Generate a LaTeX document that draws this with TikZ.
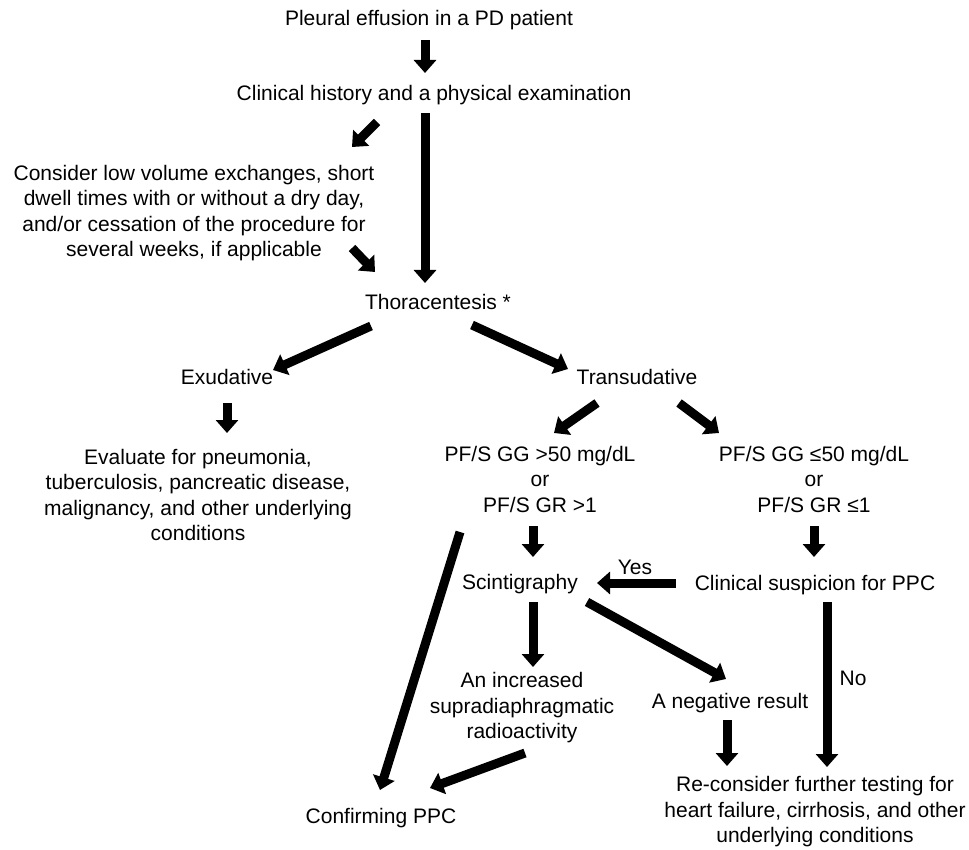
\documentclass[tikz,border=0pt]{standalone}
\usepackage{fontspec}
\setmainfont{Liberation Sans}
\usetikzlibrary{arrows.meta}

\begin{document}
\begin{tikzpicture}[x=1pt,y=-1pt,
  txt/.style={font=\fontsize{21}{25.5}\selectfont, align=center, inner sep=0pt},
  bigarrow/.style={line width=9pt, -{Triangle[width=22pt,length=13pt]}}]
\useasboundingbox (0,0) rectangle (969,850);

% Text Node
\node[txt] (pleural) at (429,20) {Pleural effusion in a PD patient};
% Text Node
\node[txt] (clinical) at (434,95) {Clinical history and a physical examination};
% Text Node
\node[txt] (consider) at (194,213) {Consider low volume exchanges, short\\dwell times with or without a dry day,\\and/or cessation of the procedure for\\several weeks, if applicable};
% Text Node
\node[txt] (thora) at (438,302) {Thoracentesis *};
% Text Node
\node[txt] (exud) at (227,377) {Exudative};
% Text Node
\node[txt] (trans) at (637,377) {Transudative};
% Text Node
\node[txt] (evaluate) at (198,495) {Evaluate for pneumonia,\\tuberculosis, pancreatic disease,\\malignancy, and other underlying\\conditions};
% Text Node
\node[txt] (pfhigh) at (540,479) {PF/S GG >50 mg/dL\\or\\PF/S GR >1};
% Text Node
\node[txt] (pflow) at (814,479) {PF/S GG ≤50 mg/dL\\or\\PF/S GR ≤1};
% Text Node
\node[txt] (scint) at (520,584) {Scintigraphy};
% Text Node
\node[txt] (suspect) at (815,585) {Clinical suspicion for PPC};
% Text Node
\node[txt] (increased) at (522,708) {An increased\\supradiaphragmatic\\radioactivity};
% Text Node
\node[txt] (negative) at (730,703) {A negative result};
% Text Node
\node[txt] (confirm) at (381,818) {Confirming PPC};
% Text Node
\node[txt] (reconsider) at (815,812) {Re-consider further testing for\\heart failure, cirrhosis, and other\\underlying conditions};
% Text Node
\node[txt] (yes) at (635,567) {Yes};
% Text Node
\node[txt] (no) at (853,678) {No};

% Arrows
\draw[bigarrow] ([shift={(-4,20)}]pleural.center) -- ([shift={(-9,-22)}]clinical.center);
\draw[bigarrow] ([shift={(-57,27)}]clinical.center) -- ([shift={(158,-66)}]consider.center);
\draw[bigarrow] ([shift={(158,35)}]consider.center) -- ([shift={(-63,-30)}]thora.center);
\draw[bigarrow] ([shift={(-9,18)}]clinical.center) -- ([shift={(-13,-19)}]thora.center);
\draw[bigarrow] ([shift={(-67,24)}]thora.center) -- ([shift={(46,-7)}]exud.center);
\draw[bigarrow] ([shift={(34,23)}]thora.center) -- ([shift={(-69,-8)}]trans.center);
\draw[bigarrow] ([shift={(0,26)}]exud.center) -- ([shift={(29,-62)}]evaluate.center);
\draw[bigarrow] ([shift={(-40,26)}]trans.center) -- ([shift={(14,-46)}]pfhigh.center);
\draw[bigarrow] ([shift={(42,26)}]trans.center) -- ([shift={(-95,-46)}]pflow.center);
\draw[bigarrow] ([shift={(-7,47)}]pfhigh.center) -- ([shift={(13,-27)}]scint.center);
\draw[bigarrow] ([shift={(0,47)}]pflow.center) -- ([shift={(-1,-28)}]suspect.center);
\draw[bigarrow] ([shift={(-139,-2)}]suspect.center) -- ([shift={(77,-1)}]scint.center);
\draw[bigarrow] ([shift={(-80,53)}]pfhigh.center) -- ([shift={(-1,-28)}]confirm.center);
\draw[bigarrow] ([shift={(13,18)}]scint.center) -- ([shift={(11,-41)}]increased.center);
\draw[bigarrow] ([shift={(67,18)}]scint.center) -- ([shift={(-4,-24)}]negative.center);
\draw[bigarrow] ([shift={(3,45)}]increased.center) -- ([shift={(49,-30)}]confirm.center);
\draw[bigarrow] ([shift={(-3,17)}]negative.center) -- ([shift={(-88,-46)}]reconsider.center);
\draw[bigarrow] ([shift={(12,17)}]suspect.center) -- ([shift={(12,-45)}]reconsider.center);

\end{tikzpicture}
\end{document}
